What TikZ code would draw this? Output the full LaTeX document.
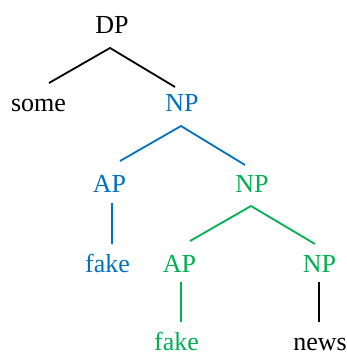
\documentclass[tikz,border=0pt]{standalone}
\usepackage{fontspec}
\setmainfont{Liberation Serif}
\usetikzlibrary{calc}
\definecolor{treeblue}{HTML}{0070C0}
\definecolor{treegreen}{HTML}{00B050}
\begin{document}
\begin{tikzpicture}[x=1pt,y=-1pt,
  lbl/.style={anchor=base,inner sep=0pt,font=\fontsize{26}{30}\selectfont},
  branch/.style={line width=1.8pt}]
\useasboundingbox (0,0) rectangle (347,353);
% labels
\node[lbl] (dp) at (112,34) {DP};
\node[lbl] (some) at (38.5,111) {some};
\node[lbl,text=treeblue] (np1) at (182,111) {NP};
\node[lbl,text=treeblue] (ap1) at (109.5,192) {AP};
\node[lbl,text=treeblue] (fake1) at (107.5,272) {fake};
\node[lbl,text=treegreen] (np2) at (252,192) {NP};
\node[lbl,text=treegreen] (ap2) at (179.5,272) {AP};
\node[lbl,text=treegreen] (np3) at (319.5,272) {NP};
\node[lbl,text=treegreen] (fake2) at (176.5,350) {fake};
\node[lbl] (news) at (320,350) {news};
% branches
\draw[branch] ($(some.base)+(10.5,-28)$) -- ($(dp.base)+(-2,14)$) -- ($(np1.base)+(-7,-24)$);
\draw[branch,treeblue] ($(ap1.base)+(10.5,-31)$) -- ($(np1.base)+(-1,15)$) -- ($(np2.base)+(-7,-27)$);
\draw[branch,treeblue] ($(ap1.base)+(2.5,11)$) -- ($(fake1.base)+(4.5,-28)$);
\draw[branch,treegreen] ($(ap2.base)+(10.5,-31)$) -- ($(np2.base)+(-1,14)$) -- ($(np3.base)+(-4.5,-28)$);
\draw[branch,treegreen] ($(ap2.base)+(1.5,10)$) -- ($(fake2.base)+(4.5,-28)$);
\draw[branch] ($(np3.base)+(-0.5,10)$) -- ($(news.base)+(-1,-28)$);
\end{tikzpicture}
\end{document}
